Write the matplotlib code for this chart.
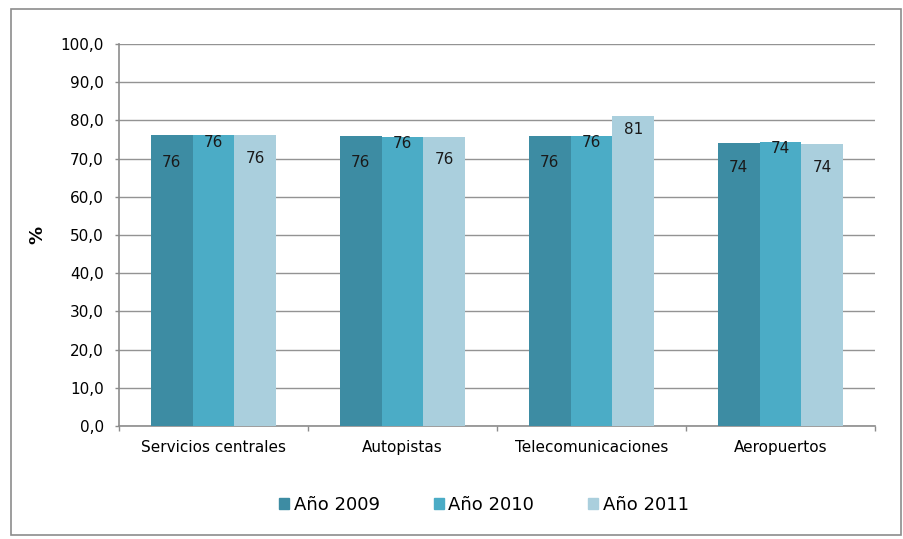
import matplotlib
matplotlib.use("Agg")
import matplotlib.pyplot as plt
import numpy as np
from matplotlib.patches import Rectangle
from matplotlib.ticker import FuncFormatter, MultipleLocator

categories = ["Servicios centrales", "Autopistas", "Telecomunicaciones", "Aeropuertos"]
series_names = ["Año 2009", "Año 2010", "Año 2011"]
v2009 = [76.1, 76.0, 76.0, 74.1]
v2010 = [76.1, 75.7, 76.0, 74.3]
v2011 = [76.1, 75.6, 81.1, 73.8]
labels2009 = ["76", "76", "76", "74"]
labels2010 = ["76", "76", "76", "74"]
labels2011 = ["76", "76", "81", "74"]

colors = ["#3D8CA3", "#4BACC6", "#AACFDD"]
# label centre offsets (points) relative to the bar top
label_offsets = [[-19.5, -19.5, -19.5, -17.5], [-5, -5, -5, -4.5], [-17, -16, -9.5, -17]]

fig = plt.figure(figsize=(9.04, 5.39), dpi=100)
fig.patches.append(Rectangle((0.012, 0.008), 0.985, 0.975, transform=fig.transFigure,
                             fill=False, edgecolor="#8C8C8C", linewidth=1.2))
ax = fig.add_axes([119/904, 1-426/539, (875-119)/904, (426-44)/539])

x = np.arange(len(categories))
w = 0.222
allvals = [v2009, v2010, v2011]
alllabels = [labels2009, labels2010, labels2011]
for i, (vals, labs) in enumerate(zip(allvals, alllabels)):
    pos = x + (i - 1) * w
    bars = ax.bar(pos, vals, width=w, color=colors[i], label=series_names[i], zorder=3)
    for j, b in enumerate(bars):
        ax.annotate(labs[j], (b.get_x() + b.get_width()/2, b.get_height()),
                    xytext=(0, label_offsets[i][j]), textcoords="offset points",
                    ha="center", va="center", fontsize=11, color="#1a1a1a", zorder=4)

ax.set_xlim(-0.5, len(categories) - 0.5)
ax.set_ylim(0, 100)
ax.yaxis.set_major_locator(MultipleLocator(10))
ax.yaxis.set_major_formatter(FuncFormatter(lambda v, p: f"{v:.1f}".replace(".", ",")))
ax.yaxis.grid(True, color="#939393", linewidth=1.0, zorder=0)
ax.set_axisbelow(True)
ax.set_xticks(x)
ax.set_xticklabels(categories, fontsize=11)
ax.set_xticks(np.arange(-0.5, len(categories), 1), minor=True)
ax.tick_params(axis="x", which="major", length=0, pad=10)
ax.tick_params(axis="x", which="minor", length=3.5, color="#8C8C8C", width=1)
ax.tick_params(axis="y", labelsize=11, length=3, color="#8C8C8C", width=1, pad=8)
for s in ["top", "right"]:
    ax.spines[s].set_visible(False)
for s in ["left", "bottom"]:
    ax.spines[s].set_color("#8C8C8C")
    ax.spines[s].set_linewidth(1.2)
ax.set_ylabel("%", fontsize=13, fontweight="bold", labelpad=10)

handles = [Rectangle((0, 0), 1, 1, color=c) for c in colors]
fig.legend(handles, series_names, loc="center", bbox_to_anchor=(484/904, 1-505/539),
           ncol=3, frameon=False, fontsize=13, handlelength=0.55, handleheight=0.55,
           handletextpad=0.25, columnspacing=3.0)

fig.savefig("out.png", dpi=100)
